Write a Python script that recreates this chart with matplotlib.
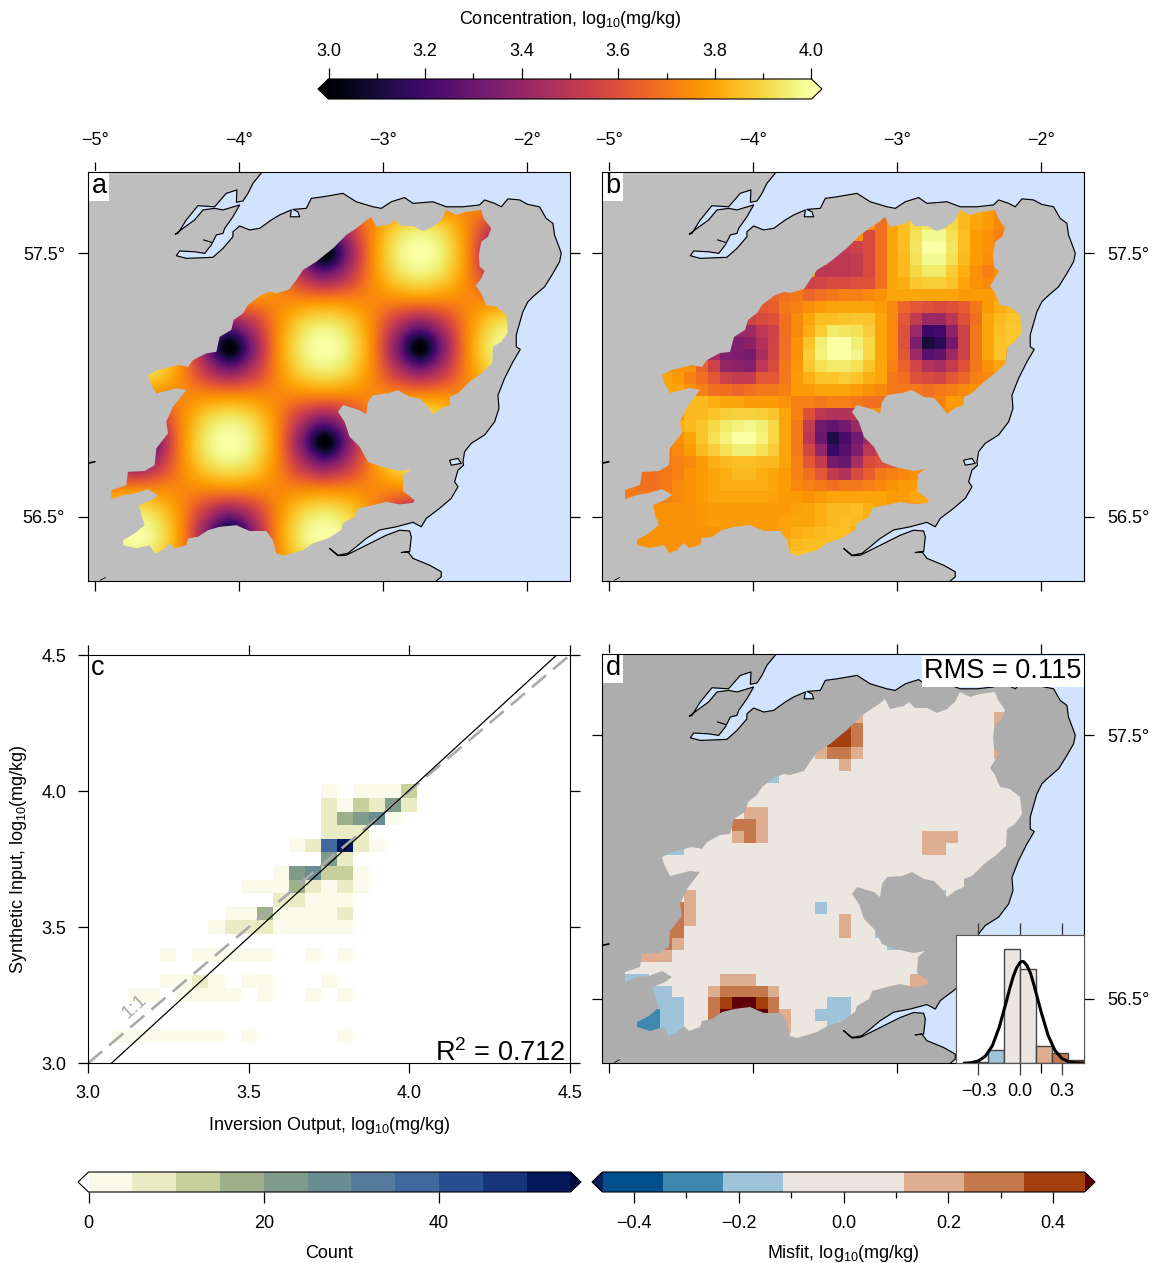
import numpy as np
import matplotlib
matplotlib.use("Agg")
import matplotlib.pyplot as plt
from matplotlib.colors import BoundaryNorm, ListedColormap, Normalize
from matplotlib.cm import ScalarMappable
from matplotlib.patches import Polygon

plt.rcParams["font.family"] = ["Liberation Sans", "DejaVu Sans"]
plt.rcParams["mathtext.fontset"] = "custom"
plt.rcParams["mathtext.rm"] = "Liberation Sans"
plt.rcParams["mathtext.default"] = "regular"
plt.rcParams["font.size"] = 13

# catchment outline, lon / lat
catch_lon = [-3.082,-3.047,-2.955,-2.920,-2.874,-2.793,-2.723,-2.654,-2.596,-2.561,-2.492,-2.422,-2.318,-2.302,-2.249,-2.272,-2.318,-2.335,-2.330,-2.295,-2.318,-2.358,-2.318,-2.284,-2.214,-2.144,-2.133,-2.179,-2.237,-2.242,-2.318,-2.399,-2.480,-2.538,-2.533,-2.596,-2.654,-2.689,-2.747,-2.816,-2.897,-2.967,-3.071,-3.105,-3.117,-3.163,-3.279,-3.314,-3.268,-3.233,-3.163,-3.105,-3.013,-2.885,-2.804,-2.858,-2.862,-2.781,-2.793,-2.885,-2.978,-3.071,-3.175,-3.198,-3.279,-3.291,-3.383,-3.488,-3.557,-3.696,-3.742,-3.766,-3.812,-3.928,-4.020,-4.136,-4.217,-4.287,-4.356,-4.368,-4.449,-4.484,-4.530,-4.588,-4.622,-4.715,-4.808,-4.808,-4.727,-4.657,-4.680,-4.697,-4.611,-4.565,-4.634,-4.727,-4.808,-4.889,-4.889,-4.785,-4.773,-4.657,-4.588,-4.576,-4.495,-4.507,-4.460,-4.368,-4.437,-4.576,-4.622,-4.634,-4.565,-4.426,-4.356,-4.321,-4.229,-4.159,-4.136,-4.055,-4.039,-3.974,-3.939,-3.847,-3.789,-3.742,-3.650,-3.603,-3.557,-3.465,-3.349,-3.256,-3.187,-3.129]
catch_lat = [57.639,57.601,57.610,57.627,57.604,57.604,57.585,57.601,57.627,57.665,57.646,57.658,57.665,57.633,57.595,57.563,57.544,57.494,57.450,57.433,57.405,57.377,57.348,57.304,57.297,57.266,57.202,57.164,57.145,57.082,57.044,57.012,56.968,56.955,56.924,56.911,56.888,56.917,56.949,56.955,56.980,56.968,56.961,56.936,56.888,56.904,56.924,56.898,56.860,56.803,56.765,56.708,56.689,56.673,56.680,56.660,56.597,56.562,56.552,56.546,56.556,56.543,56.531,56.499,56.474,56.448,56.417,56.398,56.372,56.351,56.360,56.410,56.445,56.445,56.467,56.461,56.448,56.423,56.417,56.391,56.379,56.398,56.372,56.360,56.391,56.379,56.391,56.410,56.436,56.467,56.505,56.543,56.562,56.581,56.604,56.588,56.581,56.565,56.600,56.619,56.670,56.673,56.695,56.759,56.816,56.860,56.917,56.981,56.987,56.968,57.012,57.038,57.057,57.076,57.069,57.095,57.120,57.126,57.183,57.209,57.247,57.272,57.304,57.342,57.355,57.348,57.364,57.399,57.437,57.468,57.519,57.570,57.595,57.620]

# coast, lon / lat, running from the north edge round to the south edge
coast_lon = [-3.842,-3.905,-3.939,-3.974,-4.020,-4.016,-4.090,-4.171,-4.287,-4.368,-4.426,-4.444,-4.391,-4.310,-4.252,-4.171,-4.113,-3.997,-4.044,-4.101,-4.113,-4.159,-4.194,-4.240,-4.310,-4.414,-4.437,-4.368,-4.183,-4.113,-4.044,-4.044,-3.997,-3.928,-3.858,-3.777,-3.719,-3.638,-3.645,-3.580,-3.592,-3.627,-3.534,-3.499,-3.418,-3.279,-3.187,-3.071,-3.013,-2.943,-2.851,-2.793,-2.700,-2.654,-2.561,-2.445,-2.330,-2.295,-2.225,-2.179,-2.133,-2.052,-1.994,-1.913,-1.867,-1.820,-1.809,-1.774,-1.762,-1.774,-1.820,-1.878,-1.959,-1.994,-2.029,-2.075,-2.075,-2.047,-2.098,-2.156,-2.202,-2.195,-2.225,-2.295,-2.388,-2.434,-2.445,-2.441,-2.480,-2.503,-2.480,-2.527,-2.608,-2.700,-2.735,-2.793,-2.909,-3.024,-3.117,-3.187,-3.245,-3.314,-3.372,-3.314,-3.256,-3.117,-2.978,-2.885,-2.816,-2.804,-2.816,-2.874,-2.828,-2.793,-2.677,-2.596,-2.596,-2.631]
coast_lat = [57.808,57.766,57.728,57.699,57.694,57.741,57.728,57.677,57.681,57.627,57.576,57.573,57.595,57.627,57.665,57.671,57.665,57.684,57.639,57.595,57.576,57.570,57.532,57.500,57.506,57.509,57.491,57.481,57.485,57.519,57.563,57.582,57.604,57.589,57.595,57.627,57.646,57.665,57.639,57.639,57.658,57.667,57.671,57.709,57.715,57.728,57.696,57.677,57.671,57.696,57.712,57.690,57.694,57.696,57.677,57.677,57.684,57.703,57.690,57.677,57.707,57.703,57.686,57.677,57.633,57.614,57.570,57.519,57.500,57.468,57.424,57.373,57.335,57.316,57.278,57.190,57.145,57.135,57.088,57.025,56.961,56.911,56.860,56.810,56.778,56.746,56.708,56.695,56.676,56.632,56.613,56.569,56.531,56.493,56.461,56.478,56.461,56.449,56.417,56.385,56.360,56.353,56.379,56.351,56.353,56.391,56.429,56.448,56.445,56.423,56.366,56.363,56.366,56.341,56.315,56.290,56.271,56.255]
loch_lon = [-2.538,-2.480,-2.457,-2.527]
loch_lat = [56.714,56.721,56.702,56.695]
islet1_lon = [-5.039,-5.005]
islet1_lat = [56.704,56.708]
islet2_lon = [-4.965,-4.930]
islet2_lat = [56.258,56.268]
islet3_lon = [-4.247,-4.194]
islet3_lat = [57.551,57.542]

lon_ticks = [-5,-4,-3,-2]
lon_labels = ["\u22125°","\u22124°","\u22123°","\u22122°"]
lat_ticks = [57.5,56.5]
lat_labels = ["57.5°","56.5°"]

# panel a, concentration read at quarter-cell spacing of the checkerboard
lon_a = np.linspace(-4.892,-2.087,18)
lat_a = np.linspace(57.679,56.333,16)
row_mid = [3.74]*18
row_a = [3.94,4.0,3.94,3.74,3.365,3.0,3.365,3.74,3.94,4.0,3.94,3.74,3.365,3.0,3.365,3.74,3.94,4.0]
row_b = [3.365,3.0,3.365,3.74,3.94,4.0,3.94,3.74,3.365,3.0,3.365,3.74,3.94,4.0,3.94,3.74,3.365,3.0]
row_qa = [3.89,3.94,3.89,3.74,3.51,3.365,3.51,3.74,3.89,3.94,3.89,3.74,3.51,3.365,3.51,3.74,3.89,3.94]
row_qb = [3.51,3.365,3.51,3.74,3.89,3.94,3.89,3.74,3.51,3.365,3.51,3.74,3.89,3.94,3.89,3.74,3.51,3.365]
conc_a = np.array([row_mid,row_qb,row_b,row_qb,row_mid,row_qa,row_a,row_qa,row_mid,row_qb,row_b,row_qb,row_mid,row_qa,row_a,row_qa])

# panel b and d grid
lon_edges = np.linspace(-4.893,-2.081,35)
lat_edges = np.linspace(57.681,56.324,31)

# panel b, one entry per row: first column, values from there on
b_rows = [
 (21,[3.68,3.80,3.84,3.88,3.90,3.90,3.88,3.84,3.80,3.78,3.74]),
 (21,[3.68,3.80,3.85,3.90,3.93,3.93,3.90,3.84,3.80,3.78,3.74,3.70]),
 (20,[3.58,3.68,3.80,3.85,3.92,3.98,3.98,3.92,3.85,3.78,3.76,3.72,3.70]),
 (18,[3.52,3.55,3.58,3.68,3.80,3.85,3.93,4.0,4.0,3.93,3.85,3.78,3.76,3.72]),
 (17,[3.5,3.5,3.52,3.58,3.68,3.80,3.84,3.92,3.98,3.98,3.92,3.84,3.78,3.75,3.7]),
 (16,[3.5,3.5,3.5,3.52,3.58,3.68,3.80,3.84,3.90,3.94,3.94,3.88,3.82,3.76,3.72]),
 (15,[3.55,3.56,3.58,3.58,3.6,3.6,3.68,3.8,3.82,3.87,3.88,3.88,3.86,3.80,3.76,3.74]),
 (12,[3.66,3.68,3.70,3.66,3.68,3.70,3.72,3.72,3.74,3.76,3.80,3.80,3.80,3.80,3.80,3.80,3.78,3.78,3.78,3.80]),
 (11,[3.62,3.64,3.70,3.72,3.75,3.78,3.8,3.8,3.8,3.8,3.78,3.74,3.66,3.62,3.6,3.58,3.6,3.63,3.70,3.78,3.82,3.84]),
 (10,[3.55,3.58,3.6,3.68,3.74,3.80,3.85,3.85,3.86,3.87,3.86,3.80,3.74,3.62,3.52,3.42,3.42,3.5,3.6,3.68,3.8,3.84,3.86,3.86]),
 (9,[3.4,3.42,3.5,3.55,3.68,3.74,3.82,3.88,3.94,3.93,3.92,3.88,3.8,3.74,3.6,3.42,3.18,3.2,3.38,3.55,3.7,3.8,3.85,3.87,3.87]),
 (8,[3.35,3.35,3.38,3.48,3.56,3.68,3.76,3.86,3.95,4.0,4.0,3.95,3.9,3.8,3.74,3.6,3.35,3.1,3.15,3.32,3.55,3.7,3.8,3.86,3.87]),
 (7,[3.45,3.35,3.34,3.33,3.45,3.56,3.68,3.76,3.88,3.96,4.0,4.0,3.97,3.9,3.8,3.74,3.62,3.42,3.25,3.28,3.42,3.55,3.7,3.8,3.86]),
 (6,[3.65,3.55,3.4,3.38,3.36,3.5,3.58,3.7,3.77,3.87,3.92,3.94,3.94,3.92,3.86,3.8,3.72,3.65,3.56,3.48,3.45,3.52,3.6,3.7,3.76,3.8]),
 (3,[3.8,3.78,3.72,3.68,3.62,3.55,3.52,3.52,3.62,3.62,3.7,3.78,3.82,3.86,3.86,3.88,3.86,3.82,3.8,3.7,3.68,3.6,3.58,3.56,3.62,3.66,3.72,3.74]),
 (3,[3.8,3.8,3.76,3.72,3.68,3.68,3.66,3.68,3.7,3.7,3.72,3.78,3.78,3.8,3.8,3.8,3.78,3.76,3.74,3.7,3.7,3.7,3.68,3.7,3.72,3.74]),
 (5,[3.84,3.84,3.82,3.8,3.8,3.78,3.78,3.78,3.76,3.72,3.72,3.70,3.72,3.72,3.7,3.68,3.68,3.7,3.7,3.7,3.7,3.72,3.78,3.78]),
 (5,[3.84,3.84,3.86,3.88,3.89,3.89,3.88,3.86,3.8,3.72,3.6,3.5,3.48,3.48,3.5]),
 (4,[3.82,3.84,3.86,3.9,3.94,3.96,3.97,3.95,3.9,3.8,3.7,3.52,3.32,3.28,3.32,3.42]),
 (4,[3.76,3.8,3.86,3.92,3.96,4.0,4.0,3.96,3.9,3.8,3.7,3.5,3.3,3.12,3.22,3.32,3.42]),
 (3,[3.7,3.74,3.78,3.84,3.88,3.92,3.95,3.95,3.92,3.88,3.8,3.7,3.56,3.4,3.18,3.25,3.35,3.5,3.55]),
 (3,[3.7,3.72,3.74,3.78,3.82,3.84,3.85,3.85,3.84,3.84,3.8,3.72,3.62,3.52,3.32,3.3,3.45,3.58,3.6,3.62]),
 (1,[3.68,3.68,3.7,3.72,3.76,3.78,3.8,3.82,3.84,3.84,3.82,3.8,3.78,3.72,3.68,3.62,3.52,3.48,3.58,3.64,3.7,3.72,3.74,3.76,3.76]),
 (0,[3.7,3.68,3.68,3.7,3.74,3.76,3.78,3.8,3.82,3.82,3.82,3.82,3.8,3.78,3.74,3.72,3.7,3.68,3.7,3.7,3.72,3.74,3.76,3.78,3.78]),
 (0,[3.7,3.7,3.72,3.72,3.74,3.76,3.78,3.8,3.8,3.8,3.8,3.8,3.79,3.78,3.78,3.76,3.78,3.8,3.8,3.8,3.8,3.8,3.78,3.78,3.8,3.8,3.8]),
 (2,[3.76,3.76,3.76,3.76,3.77,3.78,3.78,3.78,3.78,3.78,3.78,3.78,3.79,3.8,3.82,3.84,3.84,3.85,3.82,3.8,3.78]),
 (2,[3.76,3.76,3.76,3.76,3.77,3.78,3.78,3.78,3.78,3.78,3.78,3.79,3.8,3.8,3.82,3.84,3.85,3.84,3.82]),
 (1,[3.75,3.76,3.76,3.76,3.76,3.76,3.76,3.77,3.78,3.78,3.78,3.78,3.8,3.82,3.83,3.84,3.85,3.85,3.82]),
 (0,[3.76,3.76,3.76,3.76,3.76,3.76,3.76,3.77,3.78,3.78,3.78,3.8,3.81,3.82,3.84,3.85,3.85,3.85]),
 (3,[3.76,3.76,3.76,3.76,3.76,3.77,3.78,3.78,3.8,3.82,3.84,3.86,3.86]),
]

# panel d, cells away from the near-zero class
misfit_col = [31,31,31,31,18,19,19,16,17,18,19,16,17,18,19,18,12,10,11,9,10,11,9,10,11,25,26,25,26,27,3,4,5,5,5,4,4,4,3,3,4,3,1,2,3,0,1,2,3,2,3,4,3,4,3,4,3,4,1,2,1,2,8,9,10,7,8,9,10,11,12,7,8,9,10,11,12,7,8,9,10,11,12,13,13,17,18,16,17,18,17,16,18,18,21,22,26,24,25,24]
misfit_row = [2,3,4,5,3,3,2,4,4,4,4,5,5,5,5,6,7,10,10,11,11,11,12,12,12,12,12,13,13,12,13,13,17,18,19,18,19,20,20,21,21,20,22,22,22,24,24,25,25,26,26,26,27,27,28,28,29,29,27,27,28,28,24,24,24,25,25,25,25,25,25,26,26,26,26,26,26,27,27,27,27,27,27,27,28,26,26,27,27,27,28,18,19,20,20,21,17,24,24,25]
misfit_val = [.17,.17,.17,.17,.4,.3,.17,.17,.4,.4,.3,.17,.3,.3,.17,.17,-.17,.17,.17,.3,.3,.17,.17,.3,.17,.17,.17,.17,.17,.17,-.17,-.17,.17,.17,.17,.3,.3,.3,.4,.3,.17,.3,.17,.17,.17,-.17,-.17,-.17,-.17,-.17,-.17,-.17,-.17,-.17,-.17,-.17,-.17,-.17,-.3,-.3,-.3,-.3,.17,.17,.17,.17,.3,.3,.3,.3,.17,.3,.4,.5,.5,.4,.3,.3,.5,.5,.5,.5,.3,.17,.17,-.17,-.17,-.17,-.17,-.17,-.17,-.17,.17,.17,-.17,-.17,-.17,.17,.17,.17]

# panel c, 2d histogram cells: bin centres and counts
count_x = [3.10,3.15,3.20,3.25,3.30,3.35,3.40,3.50,3.80, 3.15,3.20,3.30,3.35,3.40,3.45,3.55,3.70,3.80, 3.25,3.30,3.35,3.40,3.50,3.55,3.75, 3.25,3.35,3.40,3.45,3.50,3.55,3.70,3.80, 3.40,3.45,3.50,3.55,3.60,3.65,3.70,3.75,3.80, 3.45,3.50,3.55,3.60,3.65,3.70,3.75,3.80, 3.60,3.65,3.70,3.75,3.80, 3.50,3.55,3.60,3.65,3.70,3.75,3.80,3.85, 3.60,3.65,3.70,3.75,3.80,3.85, 3.75,3.80, 3.65,3.70,3.75,3.80,3.85,3.90, 3.75,3.80,3.85, 3.75,3.80,3.85,3.90,3.95, 3.75,3.80,3.85,3.90,3.95,4.00, 3.75,3.85,3.90,3.95,4.00]
count_y = [3.10]*9 + [3.25]*9 + [3.30]*7 + [3.40]*8 + [3.50]*9 + [3.55]*8 + [3.60]*5 + [3.65]*8 + [3.70]*6 + [3.75]*2 + [3.80]*6 + [3.85]*3 + [3.90]*5 + [3.95]*6 + [4.00]*5
count_n = [3]*9 + [3]*9 + [3,3,8,3,3,3,3] + [3]*8 + [3,8,8,8,3,3,3,3,3] + [3,3,18,3,3,3,3,8] + [8,8,3,3,3] + [3,3,3,18,8,3,8,3] + [3,23,28,13,13,3] + [23,8] + [3,8,38,53,8,3] + [8,8,8] + [8,18,23,28,3] + [8,3,13,8,23,8] + [3,3,3,3,13]
bin_edges_c = np.arange(3.025,4.5,0.05)

fit_x = [3.0727,4.4585]
fit_y = [3.0,4.5]
ticks_c = [3.0,3.5,4.0,4.5]
r2_text = "R$^{2}$ = 0.712"
rms_text = "RMS = 0.115"

# inset histogram of panel d
hist_left = [-.345,-.23,-.115,0,.115,.23,.345]
hist_height = [.05,.45,3.9,3.2,.59,.34,.1]
hist_class = [-.3,-.17,0,0,.17,.3,.4]
curve_x = [-.40,-.35,-.30,-.25,-.20,-.15,-.10,-.075,-.05,-.025,0,.015,.025,.05,.075,.10,.15,.20,.25,.30,.35,.40,.45]
curve_y = [.004,.023,.08,.245,.60,1.24,2.1,2.55,2.96,3.26,3.44,3.47,3.46,3.32,3.05,2.64,1.75,.95,.43,.16,.05,.012,.002]

# colour classes
count_levels = [0,5,10,15,20,25,30,35,40,45,50,55]
count_colors = ["#f9fae9","#e9ecc4","#c7cf9d","#9eb08a","#7f9b8a","#6a8d94","#547b9c","#3f689c","#284f92","#173679","#03175a"]
misfit_levels = [-.46,-.345,-.23,-.115,.115,.23,.345,.46]
misfit_colors = ["#034f8b","#3f88b0","#9fc3d8","#ece6e1","#dfae90","#c4784c","#a23f0c"]

W, H = 1151, 1263
fig = plt.figure(figsize=(W/100,H/100),dpi=100)

def px_axes(l,t,r,b):
    return fig.add_axes([l/W,1-b/H,(r-l)/W,(b-t)/H])

def px_text(x,y,s,**kw):
    fig.text(x/W,1-y/H,s,ha="center",va="center",**kw)

def base_map(ax,land):
    ax.set_facecolor(land)
    ax.set_xlim(-5.051,-1.700)
    ax.set_ylim(56.255,57.808)
    sea = Polygon(list(zip(coast_lon+[-1.70,-1.70],coast_lat+[56.255,57.808])),closed=True,fc="#d1e3fe",ec="none",zorder=1)
    ax.add_patch(sea)
    ax.fill(loch_lon,loch_lat,fc="#d1e3fe",ec="k",lw=0.85,zorder=4)
    ax.plot(coast_lon,coast_lat,color="k",lw=0.85,zorder=4)
    for xs,ys,w in [(islet1_lon,islet1_lat,1.2),(islet2_lon,islet2_lat,0.6),(islet3_lon,islet3_lat,0.85)]:
        ax.plot(xs,ys,color="k",lw=w,zorder=4)
    ax.set_xticks(lon_ticks)
    ax.set_yticks(lat_ticks)
    ax.set_xticklabels(lon_labels)
    ax.set_yticklabels(lat_labels)
    ax.tick_params(direction="out",length=7.5,width=0.9,pad=9,top=True,right=True,bottom=True,left=True,labelbottom=False,labelleft=False)
    catch = Polygon(list(zip(catch_lon,catch_lat)),closed=True,fc="none",ec="none",transform=ax.transData)
    ax.add_patch(catch)
    return catch

def panel_letter(ax,s):
    for sp in ax.spines.values():
        sp.set_zorder(9)
    ax.text(0.007,0.999,s,transform=ax.transAxes,fontsize=19.5,ha="left",va="top",zorder=8,
            bbox=dict(fc="white",ec="none",pad=1.5))

# panel a
ax_a = px_axes(88,172.3,570.2,581)
catch = base_map(ax_a,"#bebebe")
dl = lon_a[1]-lon_a[0]
dp = lat_a[0]-lat_a[1]
im = ax_a.imshow(conc_a,extent=[lon_a[0]-dl/2,lon_a[-1]+dl/2,lat_a[-1]-dp/2,lat_a[0]+dp/2],origin="upper",
                 cmap="inferno",vmin=3,vmax=4,interpolation="catrom",aspect="auto",zorder=2)
im.set_clip_path(catch)
ax_a.set_xlim(-5.051,-1.700)
ax_a.set_ylim(56.255,57.808)
ax_a.tick_params(labeltop=True,labelleft=True)
panel_letter(ax_a,"a")

# panel b
ax_b = px_axes(602,172.3,1084.2,581)
catch = base_map(ax_b,"#bebebe")
conc_b = np.full((30,34),3.76)
for r,(c0,vals) in enumerate(b_rows):
    conc_b[r,c0:c0+len(vals)] = vals
mesh = ax_b.pcolormesh(lon_edges,lat_edges,conc_b,cmap="inferno",vmin=3,vmax=4,zorder=2)
mesh.set_clip_path(catch)
ax_b.tick_params(labeltop=True,labelright=True)
panel_letter(ax_b,"b")

# panel c
cmap_count = ListedColormap(count_colors)
cmap_count.set_under("white")
cmap_count.set_over("#02093e")
norm_count = BoundaryNorm(count_levels,len(count_colors))
ax_c = px_axes(88,655,570,1063.3)
grid = np.full((len(bin_edges_c)-1,len(bin_edges_c)-1),np.nan)
for x,y,n in zip(count_x,count_y,count_n):
    grid[int(round((y-3.05)/.05)),int(round((x-3.05)/.05))] = n
ax_c.pcolormesh(bin_edges_c,bin_edges_c,np.ma.masked_invalid(grid),cmap=cmap_count,norm=norm_count)
ax_c.plot([3,4.5],[3,4.5],color="#aaaaaa",lw=1.9,dashes=(7,3.5))
ax_c.plot(fit_x,fit_y,color="k",lw=0.9)
ax_c.set_xlim(3,4.5)
ax_c.set_ylim(3,4.5)
ax_c.set_xticks(ticks_c)
ax_c.set_yticks(ticks_c)
ax_c.set_xticklabels(["3.0","3.5","4.0","4.5"])
ax_c.set_yticklabels(["3.0","3.5","4.0","4.5"])
ax_c.tick_params(direction="out",length=7.5,width=0.9,pad=8,top=True,right=True)
ax_c.text(3.145,3.21,"1:1",color="#aaaaaa",fontsize=14,rotation=42,ha="center",va="center")
ax_c.text(4.487,2.988,r2_text,fontsize=19.5,ha="right",va="bottom")
panel_letter(ax_c,"c")

# panel d
cmap_misfit = ListedColormap(misfit_colors)
cmap_misfit.set_under("#0a1f5c")
cmap_misfit.set_over("#5e0006")
norm_misfit = BoundaryNorm(misfit_levels,len(misfit_colors))
ax_d = px_axes(602,654.3,1084.2,1063.3)
catch = base_map(ax_d,"#adadad")
misfit = np.zeros((30,34))
for c,r,v in zip(misfit_col,misfit_row,misfit_val):
    misfit[r,c] = v
mesh = ax_d.pcolormesh(lon_edges,lat_edges,misfit,cmap=cmap_misfit,norm=norm_misfit,zorder=2)
mesh.set_clip_path(catch)
ax_d.tick_params(labelright=True)
ax_d.set_xticklabels([])
panel_letter(ax_d,"d")
ax_d.text(0.995,0.99,rms_text,transform=ax_d.transAxes,fontsize=19.5,ha="right",va="top",zorder=8,
          bbox=dict(fc="white",ec="none",pad=2))

# inset
ax_i = px_axes(956,935,1084.2,1063.3)
ax_i.set_zorder(10)
ax_i.bar(hist_left,hist_height,width=.115,align="edge",color=[cmap_misfit(norm_misfit(v)) for v in hist_class],edgecolor="#444444",lw=1)
ax_i.plot(curve_x,curve_y,color="k",lw=2.2)
ax_i.set_xlim(-.461,.459)
ax_i.set_ylim(0,4.37)
ax_i.set_yticks([])
ax_i.set_xticks([-.3,0,.3])
ax_i.set_xticklabels(["\u22120.3","0.0","0.3"])
ax_i.tick_params(direction="out",length=8.5,width=0.9,pad=6,top=True,color="#333333")
for sp in ax_i.spines.values():
    sp.set_color("#555555")

# colour keys
cax = px_axes(318,79,822,99)
cmap_conc = plt.get_cmap("inferno").copy()
cmap_conc.set_under("k")
cmap_conc.set_over("#fcffa4")
cb = fig.colorbar(ScalarMappable(Normalize(3,4),cmap_conc),cax=cax,orientation="horizontal",extend="both",extendfrac=10.5/482)
cb.ax.xaxis.set_ticks_position("top")
cb.set_ticks([3.0,3.2,3.4,3.6,3.8,4.0],labels=["3.0","3.2","3.4","3.6","3.8","4.0"])
cb.ax.set_xticks([3.1,3.3,3.5,3.7,3.9],minor=True)
cb.ax.tick_params(which="major",length=8,width=0.9,pad=5.5)
cb.ax.tick_params(which="minor",length=4.5,width=0.9)
px_text(570,20,"Concentration, log$_{10}$(mg/kg)")

cax = px_axes(78,1172,581,1192)
cb = fig.colorbar(ScalarMappable(norm_count,cmap_count),cax=cax,orientation="horizontal",extend="both",extendfrac=10.5/482,spacing="proportional")
cb.set_ticks([0,20,40],labels=["0","20","40"])
cb.ax.minorticks_off()
cb.ax.tick_params(length=8,width=0.9,pad=8.5)
px_text(329,1254,"Count")

cax = px_axes(592,1172,1095,1192)
cb = fig.colorbar(ScalarMappable(norm_misfit,cmap_misfit),cax=cax,orientation="horizontal",extend="both",extendfrac=10.5/482,spacing="proportional")
cb.set_ticks([-.4,-.2,0,.2,.4],labels=["\u22120.4","\u22120.2","0.0","0.2","0.4"])
cb.ax.set_xticks([-.3,-.1,.1,.3],minor=True)
cb.ax.tick_params(which="major",length=8,width=0.9,pad=8.5)
cb.ax.tick_params(which="minor",length=4.5,width=0.9)
px_text(843,1254,"Misfit, log$_{10}$(mg/kg)")

px_text(329,1126,"Inversion Output, log$_{10}$(mg/kg)")
px_text(19,859,"Synthetic Input, log$_{10}$(mg/kg)",rotation=90)

plt.savefig("out.png",dpi=100)
